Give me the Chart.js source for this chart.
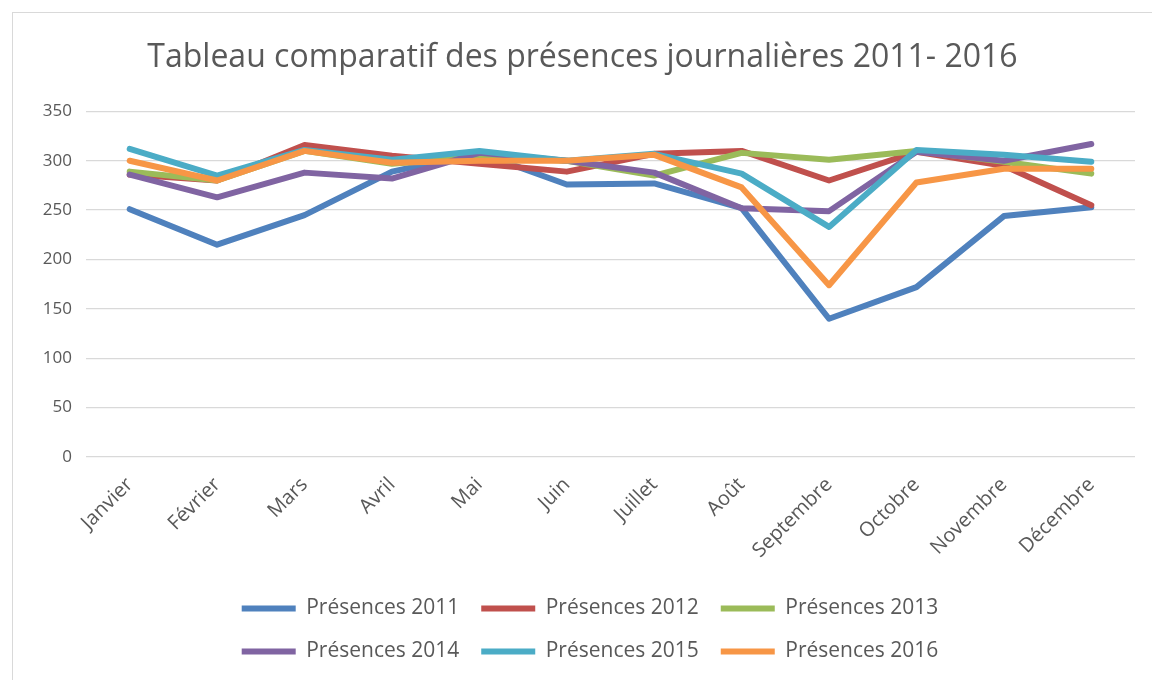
<!DOCTYPE html>
<html>
<head>
<meta charset="utf-8">
<script src="https://cdn.jsdelivr.net/npm/chart.js@4.4.0/dist/chart.umd.min.js"></script>
<style>
  body { margin: 0; background: #fff; }
  #cadre { position: absolute; left: 12px; top: 12px; width: 1200px; height: 700px; border: 1px solid #d9d9d9; }
  #zone { position: absolute; left: 0; top: 0; width: 1152px; height: 680px; }
</style>
</head>
<body>
<div id="cadre"></div>
<div id="zone"><canvas id="plot" width="1152" height="680"></canvas></div>
<script>
//Mois (axe X)
let mois = ["Janvier", "Février", "Mars", "Avril", "Mai", "Juin", "Juillet", "Août", "Septembre", "Octobre", "Novembre", "Décembre"];

//Présences par année
let presences2011 = [251, 215, 245, 289, 308, 276, 277, 252, 140, 172, 244, 253];
let presences2012 = [286, 280, 316, 305, 297, 289, 307, 310, 280, 309, 295, 255];
let presences2013 = [289, 280, 310, 297, 304, 300, 285, 308, 301, 310, 299, 287];
let presences2014 = [286, 263, 288, 282, 308, 300, 288, 252, 249, 309, 300, 317];
let presences2015 = [312, 285, 311, 301, 310, 300, 307, 287, 233, 311, 306, 299];
let presences2016 = [300, 280, 310, 298, 300, 300, 306, 273, 174, 278, 292, 292];

let series = [
  { label: "Présences 2011", data: presences2011, color: "#4F81BD" },
  { label: "Présences 2012", data: presences2012, color: "#C0504D" },
  { label: "Présences 2013", data: presences2013, color: "#9BBB59" },
  { label: "Présences 2014", data: presences2014, color: "#8064A2" },
  { label: "Présences 2015", data: presences2015, color: "#4BACC6" },
  { label: "Présences 2016", data: presences2016, color: "#F79646" },
];

let police = '"Open Sans", sans-serif';
let gris = "#595959";

//La légende sur deux lignes de trois éléments
let legendeDeuxLignes = {
  id: "legendeDeuxLignes",
  afterLayout: (chart) => {
    let legende = chart.legend;
    legende.maxWidth = 820;
    legende.fit();
    legende.left = 590 - 410;
    legende.right = 590 + 410;
    legende.width = 820;
  },
};

let datasets = series.map((s, i) => ({
  label: s.label,
  data: s.data,
  borderColor: s.color,
  backgroundColor: s.color,
  borderWidth: 6,
  borderCapStyle: "round",
  borderJoinStyle: "round",
  pointRadius: 0,
  tension: 0,
  order: series.length - i,
}));

let config = {
  type: "line",
  data: { labels: mois, datasets: datasets },
  options: {
    responsive: false,
    animation: false,
    layout: { padding: { left: 30, right: 17, top: 0, bottom: 8 } },
    plugins: {
      title: {
        display: true,
        text: "Tableau comparatif des présences journalières 2011- 2016",
        color: gris,
        font: { family: police, size: 32, weight: "normal" },
        padding: { top: 39, bottom: 34 },
      },
      legend: {
        position: "bottom",
        labels: {
          usePointStyle: true,
          pointStyle: "line",
          pointStyleWidth: 54,
          color: gris,
          padding: 22,
          font: { family: police, size: 21 },
          sort: (a, b) => a.datasetIndex - b.datasetIndex,
        },
      },
      tooltip: { enabled: false },
    },
    scales: {
      x: {
        offset: true,
        grid: { display: false },
        border: { display: false },
        ticks: {
          color: gris,
          font: { family: police, size: 20 },
          minRotation: 45,
          maxRotation: 45,
          padding: 8,
        },
        afterFit: (scale) => { scale.height = 119; },
      },
      y: {
        min: 0,
        max: 350,
        border: { display: false },
        grid: { color: "#d9d9d9", lineWidth: 1.3, drawTicks: false },
        ticks: {
          stepSize: 50,
          color: gris,
          font: { family: police, size: 17 },
          padding: 14,
        },
        afterFit: (scale) => { scale.width = 56; },
      },
    },
  },
  plugins: [legendeDeuxLignes],
};

let plotRef = document.getElementById("plot");
let chart = new Chart(plotRef, config);
</script>
</body>
</html>
